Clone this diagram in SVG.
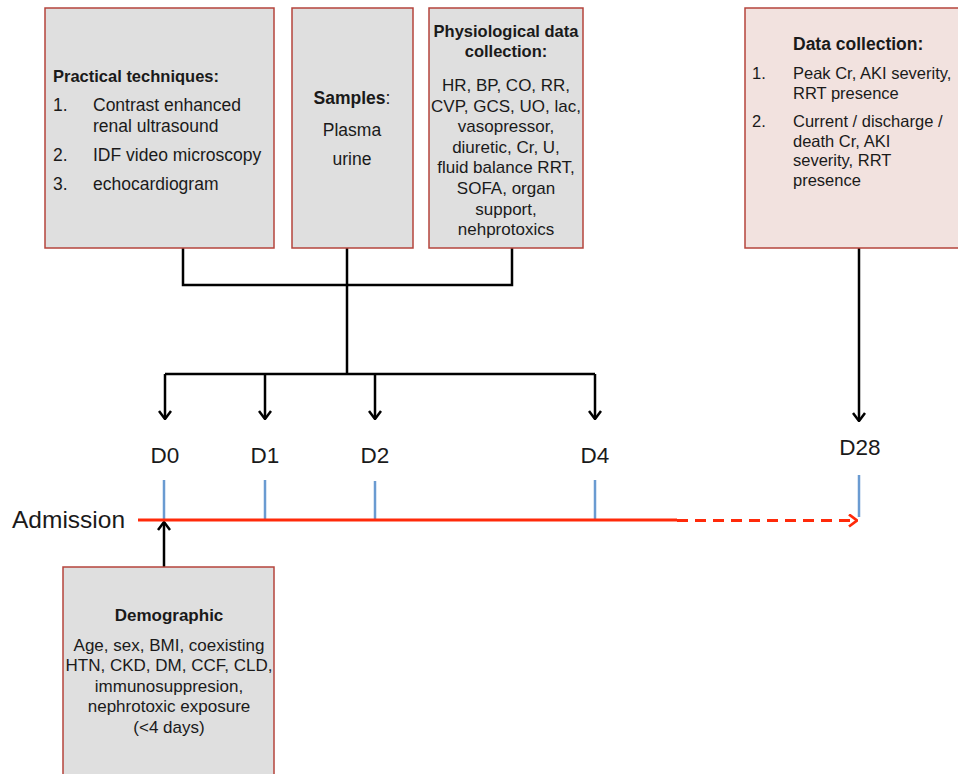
<svg xmlns="http://www.w3.org/2000/svg" width="958" height="774" viewBox="0 0 958 774">
<style>
.box{fill:#DFDFDF;stroke:#B5443C;stroke-width:1.5}
.pink{fill:#F2E2DF;stroke:#B5443C;stroke-width:1.5}
text{font-family:"Liberation Sans",Arial,sans-serif;fill:#1a1a1a}
.t{font-size:17.5px}
.s{font-size:17px}
.r{font-size:16.5px}
.b{font-size:16.5px;font-weight:bold}
.c{text-anchor:middle}
.d{font-size:22.5px;text-anchor:middle}
.conn{fill:none;stroke:#000;stroke-width:2.5}
.tick{stroke:#6A9BD1;stroke-width:2.5}
.red{fill:none;stroke:#FF2A0A;stroke-width:3}
</style>
<defs>
<marker id="ah" viewBox="0 0 10 14" markerUnits="userSpaceOnUse" markerWidth="10" markerHeight="14" refX="9" refY="7" orient="auto">
<path d="M1,1 L9,7 L1,13" fill="none" stroke="#000" stroke-width="2.5"/>
</marker>
<marker id="ahr" viewBox="0 0 10 14" markerUnits="userSpaceOnUse" markerWidth="10" markerHeight="14" refX="9" refY="7" orient="auto">
<path d="M1,1 L9,7 L1,13" fill="none" stroke="#FF2A0A" stroke-width="2.8"/>
</marker>
</defs>
<rect width="958" height="774" fill="#fff"/>

<g id="connectors">
<path class="conn" d="M183,248 V285 H512 V248"/>
<path class="conn" d="M347,248 V374"/>
<path class="conn" d="M165,374 H595"/>
<path class="conn" d="M165,374 V419" marker-end="url(#ah)"/>
<path class="conn" d="M265,374 V419" marker-end="url(#ah)"/>
<path class="conn" d="M375,374 V419" marker-end="url(#ah)"/>
<path class="conn" d="M595,374 V419" marker-end="url(#ah)"/>
<path class="conn" d="M859,248 V421" marker-end="url(#ah)"/>
<path class="conn" d="M164,567 V522" marker-end="url(#ah)"/>
</g>

<g id="timeline">
<line class="tick" x1="164" y1="480" x2="164" y2="520"/>
<line class="tick" x1="265" y1="480" x2="265" y2="520"/>
<line class="tick" x1="375" y1="481" x2="375" y2="520"/>
<line class="tick" x1="595" y1="480" x2="595" y2="520"/>
<line class="tick" x1="859" y1="475" x2="859" y2="517"/>
<line class="red" x1="138" y1="520" x2="677" y2="520"/>
<path class="red" d="M677,520.5 H857" stroke-dasharray="11,7" marker-end="url(#ahr)"/>
<text x="12" y="528" style="font-size:24.5px">Admission</text>
<text class="d" x="165" y="463">D0</text>
<text class="d" x="265" y="463">D1</text>
<text class="d" x="375" y="463">D2</text>
<text class="d" x="595" y="463">D4</text>
<text class="d" x="860" y="455">D28</text>
</g>

<g id="practical">
<rect class="box" x="45" y="8" width="229" height="240"/>
<text class="b" x="53" y="82">Practical techniques:</text>
<text class="t" x="53" y="111">1.</text>
<text class="t" x="93" y="111">Contrast enhanced</text>
<text class="t" x="93" y="132">renal ultrasound</text>
<text class="t" x="53" y="161">2.</text>
<text class="t" x="93" y="161">IDF video microscopy</text>
<text class="t" x="53" y="190">3.</text>
<text class="t" x="93" y="190">echocardiogram</text>
</g>

<g id="samples">
<rect class="box" x="292" y="8" width="121" height="240"/>
<text class="t c" x="352" y="104"><tspan font-weight="bold">Samples</tspan>:</text>
<text class="t c" x="352" y="136">Plasma</text>
<text class="t c" x="352" y="165">urine</text>
</g>

<g id="physiological">
<rect class="box" x="429" y="8" width="154" height="240"/>
<text class="b c" x="506" y="37">Physiological data</text>
<text class="b c" x="506" y="57">collection:</text>
<text class="s c" x="506" y="91">HR, BP, CO, RR,</text>
<text class="s c" x="506" y="112">CVP, GCS, UO, lac,</text>
<text class="s c" x="506" y="132">vasopressor,</text>
<text class="s c" x="506" y="153">diuretic, Cr, U,</text>
<text class="s c" x="506" y="173">fluid balance RRT,</text>
<text class="s c" x="506" y="194">SOFA, organ</text>
<text class="s c" x="506" y="215">support,</text>
<text class="s c" x="506" y="235">nehprotoxics</text>
</g>

<g id="datacollection">
<rect class="pink" x="745" y="8" width="230" height="240"/>
<text class="b" x="793" y="50" style="font-size:17.5px">Data collection:</text>
<text class="r" x="752" y="79">1.</text>
<text class="r" x="793" y="79">Peak Cr, AKI severity,</text>
<text class="r" x="793" y="99">RRT presence</text>
<text class="r" x="752" y="127">2.</text>
<text class="r" x="793" y="127">Current / discharge /</text>
<text class="r" x="793" y="147">death Cr, AKI</text>
<text class="r" x="793" y="166">severity, RRT</text>
<text class="r" x="793" y="186">presence</text>
</g>

<g id="demographic">
<rect class="box" x="63" y="567" width="211" height="220"/>
<text class="b c" x="169" y="621" style="font-size:17px">Demographic</text>
<text class="s c" x="169" y="651">Age, sex, BMI, coexisting</text>
<text class="s c" x="169" y="671">HTN, CKD, DM, CCF, CLD,</text>
<text class="s c" x="169" y="692">immunosuppresion,</text>
<text class="s c" x="169" y="712">nephrotoxic exposure</text>
<text class="s c" x="169" y="733">(&lt;4 days)</text>
</g>
</svg>
